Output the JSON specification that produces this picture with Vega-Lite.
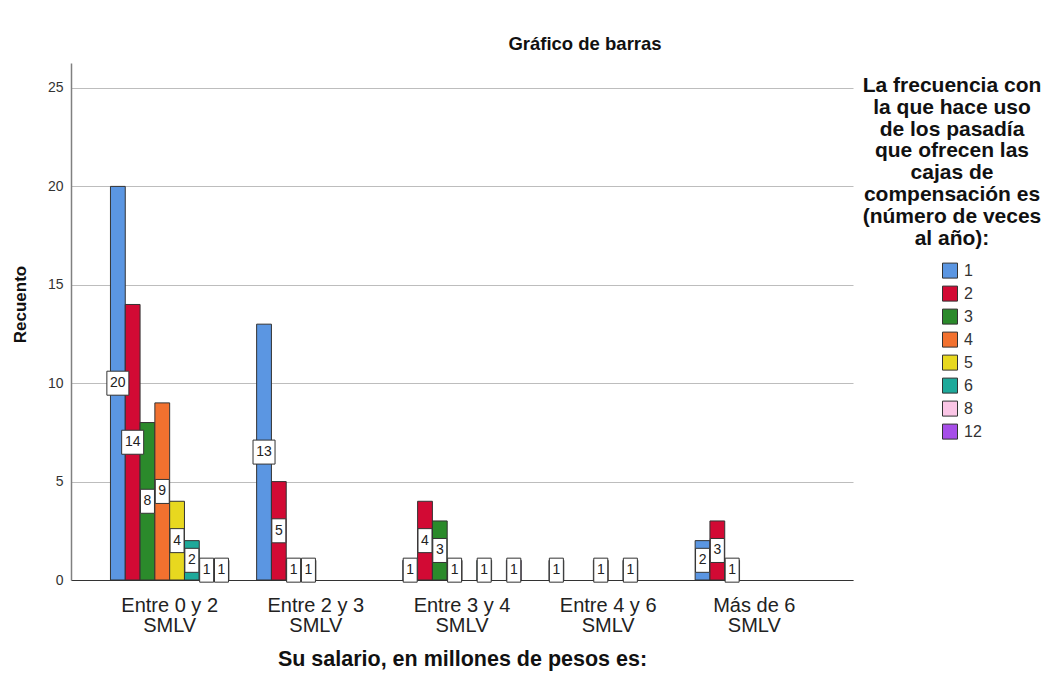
{
  "$schema": "https://vega.github.io/schema/vega-lite/v6.json",
  "width": 782,
  "height": 517,
  "padding": {"left": 11, "top": 34, "right": 4, "bottom": 4},
  "background": "white",
  "config": {
    "font": "Liberation Sans",
    "view": {"stroke": null},
    "axis": {"labelFont": "Liberation Sans", "titleFont": "Liberation Sans"},
    "axisY": {"domain": true, "domainColor": "#808080", "domainWidth": 1.5}
  },
  "title": {
    "text": "Gráfico de barras",
    "fontSize": 18.5,
    "fontWeight": "bold",
    "font": "Liberation Sans",
    "color": "#111111",
    "anchor": "middle",
    "dx": 123,
    "offset": 10
  },
  "data": {
    "values": [
      {"salario": "Entre 0 y 2 SMLV", "serie": "1", "recuento": 20},
      {"salario": "Entre 0 y 2 SMLV", "serie": "2", "recuento": 14},
      {"salario": "Entre 0 y 2 SMLV", "serie": "3", "recuento": 8},
      {"salario": "Entre 0 y 2 SMLV", "serie": "4", "recuento": 9},
      {"salario": "Entre 0 y 2 SMLV", "serie": "5", "recuento": 4},
      {"salario": "Entre 0 y 2 SMLV", "serie": "6", "recuento": 2},
      {"salario": "Entre 0 y 2 SMLV", "serie": "8", "recuento": 1},
      {"salario": "Entre 0 y 2 SMLV", "serie": "12", "recuento": 1},
      {"salario": "Entre 2 y 3 SMLV", "serie": "1", "recuento": 13},
      {"salario": "Entre 2 y 3 SMLV", "serie": "2", "recuento": 5},
      {"salario": "Entre 2 y 3 SMLV", "serie": "3", "recuento": 1},
      {"salario": "Entre 2 y 3 SMLV", "serie": "4", "recuento": 1},
      {"salario": "Entre 3 y 4 SMLV", "serie": "1", "recuento": 1},
      {"salario": "Entre 3 y 4 SMLV", "serie": "2", "recuento": 4},
      {"salario": "Entre 3 y 4 SMLV", "serie": "3", "recuento": 3},
      {"salario": "Entre 3 y 4 SMLV", "serie": "4", "recuento": 1},
      {"salario": "Entre 3 y 4 SMLV", "serie": "6", "recuento": 1},
      {"salario": "Entre 3 y 4 SMLV", "serie": "12", "recuento": 1},
      {"salario": "Entre 4 y 6 SMLV", "serie": "1", "recuento": 1},
      {"salario": "Entre 4 y 6 SMLV", "serie": "4", "recuento": 1},
      {"salario": "Entre 4 y 6 SMLV", "serie": "6", "recuento": 1},
      {"salario": "Más de 6 SMLV", "serie": "1", "recuento": 2},
      {"salario": "Más de 6 SMLV", "serie": "2", "recuento": 3},
      {"salario": "Más de 6 SMLV", "serie": "3", "recuento": 1}
    ]
  },
  "encoding": {
    "x": {
      "field": "salario",
      "type": "nominal",
      "sort": ["Entre 0 y 2 SMLV", "Entre 2 y 3 SMLV", "Entre 3 y 4 SMLV", "Entre 4 y 6 SMLV", "Más de 6 SMLV"],
      "scale": {"paddingInner": 0.19, "paddingOuter": 0.27},
      "title": "Su salario, en millones de pesos es:",
      "axis": {
        "labelAngle": 0,
        "labelExpr": "[replace(datum.label, ' SMLV', ''), 'SMLV']",
        "labelFontSize": 20,
        "labelColor": "#222222",
        "labelLineHeight": 20,
        "labelPadding": 15,
        "ticks": false,
        "domainColor": "#333333",
        "titleFontSize": 21.5,
        "titleFontWeight": "bold",
        "titleColor": "#111111",
        "titlePadding": 13
      }
    },
    "xOffset": {
      "field": "serie",
      "type": "nominal",
      "scale": {"domain": ["1", "2", "3", "4", "5", "6", "8", "12"], "paddingInner": 0, "paddingOuter": 0}
    }
  },
  "layer": [
    {
      "mark": {"type": "bar", "stroke": "#333333", "strokeWidth": 1},
      "encoding": {
        "y": {
          "field": "recuento",
          "type": "quantitative",
          "scale": {"domain": [0, 26.27], "nice": false},
          "title": "Recuento",
          "axis": {
            "values": [0, 5, 10, 15, 20, 25],
            "gridColor": "#bdbdbd",
            "gridWidth": 1,
            "ticks": false,
            "domain": true,
            "domainColor": "#808080",
            "domainWidth": 1.5,
            "labelFontSize": 14,
            "labelColor": "#333333",
            "labelPadding": 8,
            "titleFontSize": 17,
            "titleFontWeight": "bold",
            "titleColor": "#111111",
            "titlePadding": 18,
            "titleY": 241
          }
        },
        "color": {
          "field": "serie",
          "type": "nominal",
          "scale": {
            "domain": ["1", "2", "3", "4", "5", "6", "8", "12"],
            "range": ["#5b96e2", "#d20a34", "#2b8a2b", "#f2712f", "#e8d81f", "#1ea99a", "#fbc6e6", "#a64ee8"]
          },
          "legend": {
            "orient": "none",
            "legendX": 792,
            "legendY": 12,
            "title": ["La frecuencia con", "la que hace uso", "de los pasadía", "que ofrecen las", "cajas de", "compensación es", "(número de veces", "al año):"],
            "titleFontSize": 21,
            "titleFontWeight": "bold",
            "titleColor": "#111111",
            "titleAlign": "center",
            "titleAnchor": "middle",
            "titleLineHeight": 21.8,
            "titlePadding": 14,
            "symbolType": "square",
            "symbolSize": 225,
            "symbolStrokeColor": "#333333",
            "symbolStrokeWidth": 1,
            "symbolOffset": 19,
            "labelOffset": 6,
            "labelFontSize": 16,
            "labelColor": "#333333",
            "rowPadding": 3
          }
        }
      }
    },
    {
      "encoding": {
        "y": {
          "field": "recuento",
          "type": "quantitative",
          "scale": {"domain": [0, 52.54], "nice": false},
          "axis": null
        }
      },
      "layer": [
        {
          "transform": [{"filter": "datum.recuento >= 10"}],
          "mark": {"type": "point", "shape": "M-0.917,-1H0.917V1H-0.917Z", "size": 576, "filled": true, "fill": "white", "stroke": "#333333", "strokeWidth": 1, "opacity": 1}
        },
        {
          "transform": [{"filter": "datum.recuento < 10"}],
          "mark": {"type": "point", "shape": "M-0.583,-1H0.583V1H-0.583Z", "size": 576, "filled": true, "fill": "white", "stroke": "#333333", "strokeWidth": 1, "opacity": 1}
        },
        {
          "mark": {"type": "text", "fontSize": 14, "font": "Liberation Sans", "color": "#222222", "baseline": "middle", "align": "center"},
          "encoding": {"text": {"field": "recuento", "type": "quantitative"}}
        }
      ]
    }
  ],
  "resolve": {"scale": {"y": "independent"}}
}
